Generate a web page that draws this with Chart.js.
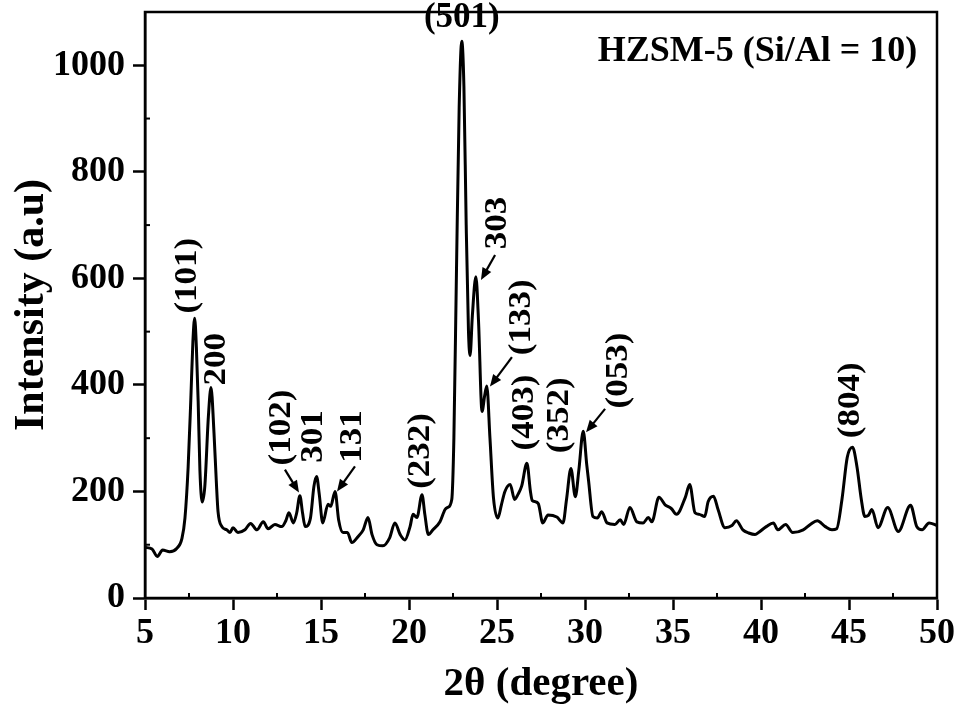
<!DOCTYPE html>
<html>
<head>
<meta charset="utf-8">
<script src="https://cdn.jsdelivr.net/npm/chart.js@4.4.1/dist/chart.umd.min.js"></script>
<style>
  html, body { margin: 0; padding: 0; background: #fff; }
  #wrap { width: 958px; height: 711px; }
</style>
</head>
<body>
<div id="wrap"><canvas id="xrdChart"></canvas></div>
<script>
// --- Data ---
const twoTheta = [
  5.0, 5.4, 5.7, 6.0, 6.4, 6.8, 7.1, 7.27, 7.45, 7.6, 7.72, 7.82, 7.92, 8.02, 8.12, 8.25, 8.4, 8.6, 8.75, 8.92,
  9.05, 9.15, 9.37, 9.64, 9.83, 10.0, 10.28, 10.68, 11.0, 11.36, 11.72, 12.0, 12.38, 12.77, 13.0, 13.18, 13.43, 13.62, 13.8, 13.95,
  14.1, 14.4, 14.6, 14.75, 14.9, 15.1, 15.4, 15.55, 15.8, 16.0, 16.25, 16.5, 16.75, 17.1, 17.4, 17.67, 17.9, 18.18, 18.52, 18.9,
  19.2, 19.5, 19.77, 20.06, 20.23, 20.45, 20.74, 20.9, 21.1, 21.36, 21.76, 22.05, 22.2, 22.43, 22.55, 22.7, 22.85, 23.0, 23.12, 23.25,
  23.38, 23.47, 23.6, 23.8, 23.95, 24.15, 24.3, 24.42, 24.6, 24.8, 25.05, 25.25, 25.45, 25.75, 26.0, 26.2, 26.4, 26.7, 26.9, 27.0,
  27.15, 27.35, 27.6, 27.9, 28.4, 28.75, 28.95, 29.2, 29.45, 29.65, 29.9, 30.1, 30.2, 30.45, 30.7, 30.95, 31.25, 31.7, 32.0, 32.2,
  32.55, 32.95, 33.3, 33.6, 33.8, 34.2, 34.55, 34.9, 35.2, 35.7, 35.95, 36.25, 36.5, 36.8, 37.0, 37.3, 37.56, 37.95, 38.35, 38.6,
  38.97, 39.3, 39.66, 39.9, 40.3, 40.7, 40.96, 41.4, 41.8, 42.4, 42.8, 43.2, 43.65, 44.03, 44.3, 44.6, 44.9, 45.2, 45.45, 45.7,
  45.9, 46.1, 46.3, 46.65, 47.2, 47.8, 48.5, 48.85, 49.15, 49.55, 50.0
];
const intensity = [
  95, 92, 78, 90, 87, 93, 112, 150, 245, 370, 480, 525, 470, 370, 240, 180, 210, 340, 395, 310,
  220, 162, 134, 128, 123, 132, 123, 128, 140, 128, 143, 130, 138, 134, 145, 160, 141, 160, 192, 160,
  134, 150, 210, 228, 195, 141, 176, 172, 200, 147, 123, 123, 104, 115, 128, 151, 119, 100, 98, 113,
  141, 119, 109, 134, 157, 151, 194, 157, 119, 128, 143, 166, 170, 185, 300, 620, 920, 1045, 960, 700,
  500, 455, 530, 603, 520, 350, 380, 398, 300, 188, 150, 175, 200, 213, 185, 195, 210, 253, 200, 183,
  181, 177, 141, 156, 152, 141, 185, 243, 190, 240, 313, 250, 221, 153, 150, 162, 141, 138, 147, 138,
  170, 143, 141, 151, 143, 189, 175, 168, 157, 189, 213, 160, 157, 153, 181, 191, 166, 132, 136, 145,
  128, 122, 119, 124, 134, 141, 128, 138, 123, 128, 138, 145, 134, 128, 130, 185, 264, 283, 247, 185,
  153, 155, 166, 132, 170, 125, 174, 134, 128, 141, 136
];
const xTickValues = [5, 10, 15, 20, 25, 30, 35, 40, 45, 50];
const yTickValues = [0, 200, 400, 600, 800, 1000];

const FONT = "'Liberation Serif', 'Times New Roman', serif";

// peak labels placed in data coordinates (2theta, intensity)
const notes = [
  { t: '(101)', x: 7.44, y: 605, rot: true },
  { t: '200', x: 9.1, y: 448, rot: true },
  { t: '(102)', x: 12.75, y: 320, rot: true },
  { t: '301', x: 14.6, y: 303, rot: true },
  { t: '131', x: 16.8, y: 303, rot: true },
  { t: '(232)', x: 20.65, y: 276, rot: true },
  { t: '(501)', x: 23.0, y: 1088, rot: false },
  { t: '303', x: 25.05, y: 704, rot: true },
  { t: '(133)', x: 26.4, y: 527, rot: true },
  { t: '(403)', x: 26.6, y: 348, rot: true },
  { t: '(352)', x: 28.55, y: 343, rot: true },
  { t: '(053)', x: 31.95, y: 427, rot: true },
  { t: '(804)', x: 45.1, y: 371, rot: true },
  { t: 'HZSM-5 (Si/Al = 10)', x: 39.8, y: 1026, rot: false, size: 36 }
];
const arrows = [
  { x0: 12.95, y0: 241, x1: 13.75, y1: 198 },
  { x0: 16.93, y0: 247, x1: 15.91, y1: 200 },
  { x0: 24.89, y0: 644, x1: 24.09, y1: 597 },
  { x0: 25.85, y0: 452, x1: 24.6, y1: 397 },
  { x0: 31.14, y0: 355, x1: 30.06, y1: 311 }
];

// --- Frame, minor ticks and annotations ---
const decorPlugin = {
  id: 'decor',
  afterDraw(chart) {
    const { ctx, chartArea: a, scales: { x, y } } = chart;
    ctx.save();
    ctx.strokeStyle = '#000';
    ctx.fillStyle = '#000';

    // box
    ctx.lineWidth = 2.5;
    ctx.strokeRect(a.left, a.top, a.right - a.left, a.bottom - a.top);

    // minor ticks (inward)
    ctx.lineWidth = 2;
    for (let v = 7.5; v < 50; v += 5) {
      const px = x.getPixelForValue(v);
      ctx.beginPath(); ctx.moveTo(px, a.bottom); ctx.lineTo(px, a.bottom - 5); ctx.stroke();
    }
    for (let v = 100; v < 1100; v += 200) {
      const py = y.getPixelForValue(v);
      ctx.beginPath(); ctx.moveTo(a.left, py); ctx.lineTo(a.left + 5, py); ctx.stroke();
    }

    // labels
    ctx.textAlign = 'center';
    ctx.textBaseline = 'middle';
    notes.forEach(n => {
      const px = x.getPixelForValue(n.x);
      const py = y.getPixelForValue(n.y);
      ctx.font = 'bold ' + (n.size || 35) + 'px ' + FONT;
      ctx.save();
      ctx.translate(px, py);
      if (n.rot) { ctx.scale(0.9, 1); ctx.rotate(-Math.PI / 2); }
      ctx.fillText(n.t, 0, 0);
      ctx.restore();
    });

    // arrows
    arrows.forEach(r => {
      const x0 = x.getPixelForValue(r.x0), y0 = y.getPixelForValue(r.y0);
      const x1 = x.getPixelForValue(r.x1), y1 = y.getPixelForValue(r.y1);
      const ang = Math.atan2(y1 - y0, x1 - x0);
      const head = 12;
      ctx.lineWidth = 2.2;
      ctx.beginPath();
      ctx.moveTo(x0, y0);
      ctx.lineTo(x1 - Math.cos(ang) * head * 0.8, y1 - Math.sin(ang) * head * 0.8);
      ctx.stroke();
      ctx.beginPath();
      ctx.moveTo(x1, y1);
      ctx.lineTo(x1 - head * Math.cos(ang) + 5 * Math.sin(ang), y1 - head * Math.sin(ang) - 5 * Math.cos(ang));
      ctx.lineTo(x1 - head * Math.cos(ang) - 5 * Math.sin(ang), y1 - head * Math.sin(ang) + 5 * Math.cos(ang));
      ctx.closePath();
      ctx.fill();
    });
    ctx.restore();
  }
};

const ctx = document.getElementById('xrdChart').getContext('2d');
const xrdChart = new Chart(ctx, {
  type: 'line',
  data: {
    datasets: [{
      data: twoTheta.map((t, i) => ({ x: t, y: intensity[i] })),
      borderColor: '#000',
      borderWidth: 3,
      pointRadius: 0,
      cubicInterpolationMode: 'monotone',
      fill: false
    }]
  },
  options: {
    responsive: true,
    maintainAspectRatio: false,
    animation: false,
    layout: { padding: { top: 12, right: 21, left: 0, bottom: 0 } },
    plugins: { legend: { display: false }, tooltip: { enabled: false } },
    scales: {
      x: {
        type: 'linear', min: 5, max: 50,
        afterBuildTicks: s => { s.ticks = xTickValues.map(v => ({ value: v })); },
        ticks: { color: '#000', font: { family: FONT, size: 36, weight: 'bold' }, padding: 2, maxRotation: 0, autoSkip: false,
                 callback: v => String(v) },
        grid: { drawOnChartArea: false, drawTicks: true, tickLength: 12, tickWidth: 2.5, tickColor: '#000' },
        border: { display: true, color: '#000', width: 2.5 },
        title: { display: true, text: '2θ (degree)', color: '#000', font: { family: FONT, size: 41, weight: 'bold' }, padding: { top: 0, bottom: 2 } },
        afterFit: s => { s.height = 113; s.paddingLeft = 0; s.paddingRight = 0; }
      },
      y: {
        min: 0, max: 1100,
        afterBuildTicks: s => { s.ticks = yTickValues.map(v => ({ value: v })); },
        ticks: { color: '#000', font: { family: FONT, size: 36, weight: 'bold' }, padding: 8,
                 callback: v => String(v) },
        grid: { drawOnChartArea: false, drawTicks: true, tickLength: 12, tickWidth: 2.5, tickColor: '#000' },
        border: { display: true, color: '#000', width: 2.5 },
        title: { display: true, text: 'Intensity (a.u)', color: '#000', font: { family: FONT, size: 42, weight: 'bold' }, padding: { top: 7, bottom: 0 } },
        afterFit: s => { s.width = 145; s.paddingTop = 0; s.paddingBottom = 0; }
      }
    }
  },
  plugins: [decorPlugin]
});
</script>
</body>
</html>
